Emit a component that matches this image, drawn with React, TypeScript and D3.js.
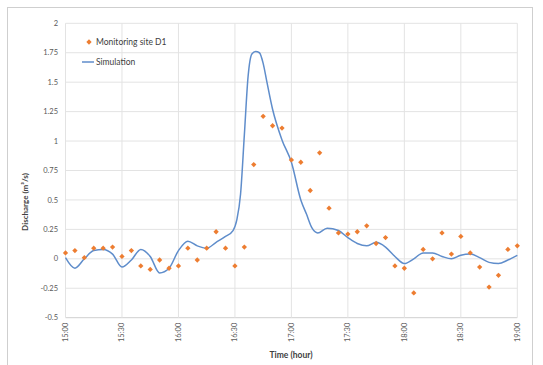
import React from "react";
import * as d3 from "d3";

const obsMinutes = [0,5,10,15,20,25,30,35,40,45,50,55,60,65,70,75,80,85,90,95,100,105,110,115,120,125,130,135,140,145,150,155,160,165,170,175,180,185,190,195,200,205,210,215,220,225,230,235,240];
const obsValues = [0.05,0.07,0.01,0.09,0.09,0.10,0.02,0.07,-0.06,-0.09,-0.01,-0.08,-0.06,0.09,-0.01,0.09,0.23,0.09,-0.06,0.10,0.80,1.21,1.13,1.11,0.84,0.82,0.58,0.90,0.43,0.22,0.21,0.23,0.28,0.13,0.18,-0.06,-0.08,-0.29,0.08,0.00,0.22,0.04,0.19,0.05,-0.07,-0.24,-0.14,0.08,0.11];

const simMinutes = [0,5,10,15,20,25,30,35,40,45,50,55,60,65,70,75,80,85,89,91,93,95,97,99,101,103,105,107,110,115,120,125,128,131,134,139,145,150,155,160,165,170,175,180,185,190,195,200,205,210,215,220,225,230,235,240];
const simValues = [0.01,-0.08,0.0,0.07,0.08,0.04,-0.07,-0.01,0.08,0.02,-0.12,-0.08,0.07,0.15,0.11,0.09,0.14,0.19,0.24,0.33,0.55,1.05,1.55,1.74,1.76,1.75,1.66,1.5,1.27,1.01,0.82,0.5,0.38,0.26,0.22,0.26,0.24,0.18,0.13,0.11,0.14,0.1,0.02,-0.04,0.0,0.05,0.05,0.02,0.0,0.03,0.04,0.01,-0.03,-0.04,-0.01,0.03];

const xTickMinutes = [0,30,60,90,120,150,180,210,240];
const xTickLabels = ["15:00","15:30","16:00","16:30","17:00","17:30","18:00","18:30","19:00"];
const yTicks = [-0.5,-0.25,0,0.25,0.5,0.75,1,1.25,1.5,1.75,2];

const obsName = "Monitoring site D1";
const simName = "Simulation";

export default function App() {
  const W = 543, H = 365;
  const x = d3.scaleLinear().domain([0, 240]).range([65.5, 517.3]);
  const y = d3.scaleLinear().domain([-0.5, 2]).range([317.7, 23.3]);
  const font = "Lato, 'Open Sans', sans-serif";
  const simPts: [number, number][] = simMinutes.map((m, i) => [m, simValues[i]]);
  const line = d3.line<[number, number]>()
    .x(d => x(d[0]))
    .y(d => y(d[1]))
    .curve(d3.curveMonotoneX);
  const diamond = d3.symbol().type(d3.symbolSquare).size(14)() as string;
  const orange = "#ED7D31";
  const blue = "#5F8DCB";
  const fmt = (v: number) => String(v);
  return (
    <svg width={W} height={H} style={{ position: "absolute", left: 0, top: 0, background: "#fff" }}>
      <rect x={7.5} y={7.5} width={525} height={370} fill="#fff" stroke="#cfcfcf" strokeWidth={1} />
      {yTicks.map(t => (
        <g key={"y" + t}>
          <line x1={x(0)} x2={x(240)} y1={y(t)} y2={y(t)} stroke={t === -0.5 ? "#cfcfcf" : "#e3e3e3"} strokeWidth={1} />
          <text x={58} y={y(t)} dy="0.35em" textAnchor="end" fontSize={7.5} fill="#595959" fontFamily={font}>{fmt(t)}</text>
        </g>
      ))}
      {xTickMinutes.map((m, i) => (
        <g key={"x" + m}>
          <line x1={x(m)} x2={x(m)} y1={y(2)} y2={y(-0.5)} stroke="#e3e3e3" strokeWidth={1} />
          <text transform={`translate(${x(m) + 2.5},${y(-0.5) + 5}) rotate(-90)`} textAnchor="end" fontSize={7.5} fill="#595959" fontFamily={font}>{xTickLabels[i]}</text>
        </g>
      ))}
      <path d={line(simPts) || ""} fill="none" stroke={blue} strokeWidth={1.5} />
      {obsMinutes.map((m, i) => (
        <path key={"o" + m} d={diamond} transform={`translate(${x(m)},${y(obsValues[i])}) rotate(45)`} fill={orange} />
      ))}
      <path d={diamond} transform="translate(89,42) rotate(45)" fill={orange} />
      <text x={96} y={42} dy="0.35em" fontSize={8.5} fill="#404040" fontFamily={font}>{obsName}</text>
      <line x1={82} x2={94} y1={62} y2={62} stroke={blue} strokeWidth={1.5} />
      <text x={96} y={62} dy="0.35em" fontSize={8.5} fill="#404040" fontFamily={font}>{simName}</text>
      <text x={291} y={358} textAnchor="middle" fontSize={8.5} fontWeight="bold" fill="#404040" fontFamily={font}>Time (hour)</text>
      <text transform="translate(28,202) rotate(-90)" textAnchor="middle" fontSize={8} fontWeight="bold" fill="#404040" fontFamily={font}>Discharge (m³/s)</text>
    </svg>
  );
}
